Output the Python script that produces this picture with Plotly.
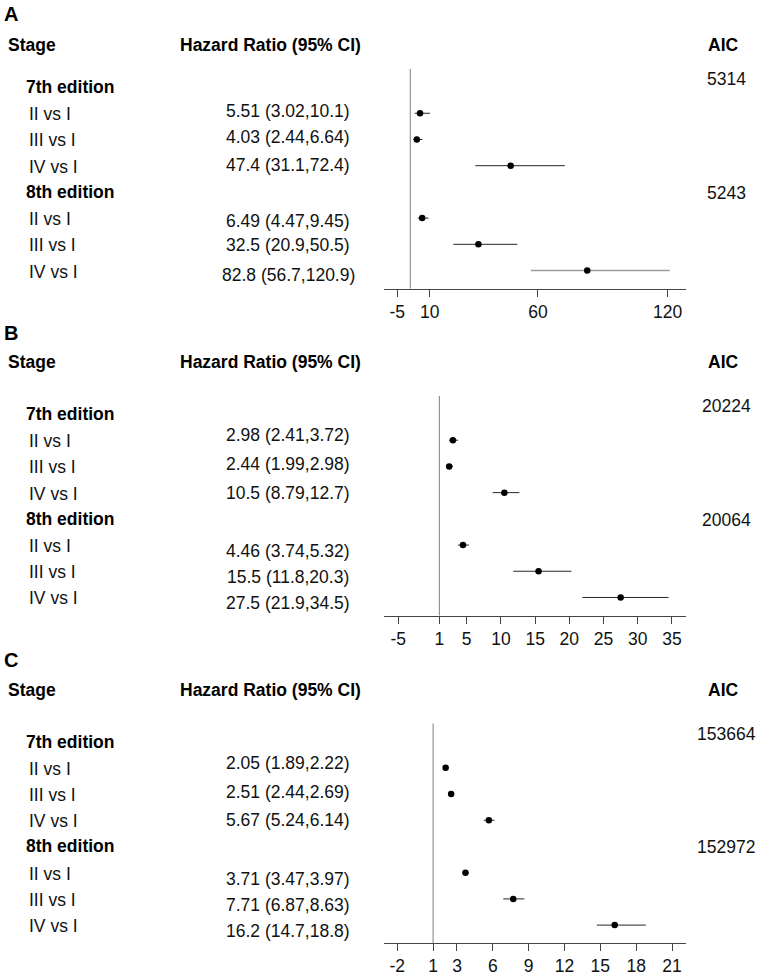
import plotly.graph_objects as go

W, H = 757, 976
FONT = "Liberation Sans, Arial, Helvetica, sans-serif"
FS = 17.5

# ---------------- data ----------------
stages = ["II vs I", "III vs I", "IV vs I"]
editions = ["7th edition", "8th edition"]
panel_letters = ["A", "B", "C"]
col_headers = ["Stage", "Hazard Ratio (95% CI)", "AIC"]

# Panel A
hr_A = [5.51, 4.03, 47.4, 6.49, 32.5, 82.8]
lo_A = [3.02, 2.44, 31.1, 4.47, 20.9, 56.7]
hi_A = [10.1, 6.64, 72.4, 9.45, 50.5, 120.9]
aic_A = [5314, 5243]
ticks_A = [-5, 10, 60, 120]

# Panel B
hr_B = [2.98, 2.44, 10.5, 4.46, 15.5, 27.5]
lo_B = [2.41, 1.99, 8.79, 3.74, 11.8, 21.9]
hi_B = [3.72, 2.98, 12.7, 5.32, 20.3, 34.5]
aic_B = [20224, 20064]
ticks_B = [-5, 1, 5, 10, 15, 20, 25, 30, 35]

# Panel C
hr_C = [2.05, 2.51, 5.67, 3.71, 7.71, 16.2]
lo_C = [1.89, 2.44, 5.24, 3.47, 6.87, 14.7]
hi_C = [2.22, 2.69, 6.14, 3.97, 8.63, 18.8]
aic_C = [153664, 152972]
ticks_C = [-2, 1, 3, 6, 9, 12, 15, 18, 21]

ref_value = 1

# ---------------- layout parameters (pixels) ----------------
panels = [
    dict(hr=hr_A, lo=lo_A, hi=hi_A, aic=aic_A, ticks=ticks_A,
         xrange=[-11.15, 128.46], axis_px=290.7, header_px=45, letter_px=14,
         val_shift=[2, 2, 1, -3, -1, -4], gray_last=True),
    dict(hr=hr_B, lo=lo_B, hi=hi_B, aic=aic_B, ticks=ticks_B,
         xrange=[-7.09, 37.05], axis_px=620.0, header_px=365, letter_px=335,
         val_shift=[5, 2, 0, -6, -6, -6], gray_last=False),
    dict(hr=hr_C, lo=lo_C, hi=hi_C, aic=aic_C, ticks=ticks_C,
         xrange=[-3.11, 22.17], axis_px=950.0, header_px=695, letter_px=665,
         val_shift=[5, 2, 0, -6, -6, -6], gray_last=False),
]

ROW_STEP = 26.4
YRANGE = [7.69, -0.69]
DOM_H = (YRANGE[0] - YRANGE[1]) * ROW_STEP
X0_PX, X1_PX = 384, 686

edition_rows = [0, 4]
data_rows = [1, 2, 3, 5, 6, 7]


def py(px):
    return 1 - px / H


def pxx(px):
    return px / W


fig = go.Figure()
annotations = []
shapes = []

for i, p in enumerate(panels):
    sfx = "" if i == 0 else str(i + 1)
    xref, yref = "x" + sfx, "y" + sfx

    # CI lines
    for k, r in enumerate(data_rows):
        last_gray = p["gray_last"] and k == len(data_rows) - 1
        fig.add_trace(go.Scatter(
            x=[p["lo"][k], p["hi"][k]], y=[r, r], mode="lines",
            line=dict(color="#9a9a9a" if last_gray else "#262626",
                      width=1.6 if last_gray else 1),
            xaxis=xref, yaxis=yref, showlegend=False, hoverinfo="skip"))
    # point estimates
    fig.add_trace(go.Scatter(
        x=p["hr"], y=data_rows, mode="markers",
        marker=dict(color="black", size=6.5),
        xaxis=xref, yaxis=yref, showlegend=False))

    # reference line
    shapes.append(dict(type="line", xref=xref, yref=yref + " domain",
                       x0=ref_value, x1=ref_value, y0=0, y1=1,
                       line=dict(color="#808080", width=1)))

    bottom = py(p["axis_px"])
    top = py(p["axis_px"] - DOM_H)
    fig.layout["xaxis" + sfx] = dict(
        domain=[pxx(X0_PX), pxx(X1_PX)], anchor=yref, range=p["xrange"],
        showline=True, linecolor="#444", linewidth=1,
        ticks="outside", ticklen=7, tickcolor="#444", tickwidth=1,
        tickvals=p["ticks"], ticktext=[str(t) for t in p["ticks"]],
        tickfont=dict(family=FONT, size=FS, color="#111"),
        showgrid=False, zeroline=False, fixedrange=True)
    fig.layout["yaxis" + sfx] = dict(
        domain=[bottom, top], anchor=xref, range=YRANGE, visible=False,
        showgrid=False, zeroline=False, fixedrange=True)

    # panel letter
    annotations.append(dict(text="<b>%s</b>" % panel_letters[i], xref="paper", yref="paper",
                            x=pxx(2), y=py(p["letter_px"]), xanchor="left", yanchor="middle",
                            showarrow=False, font=dict(family=FONT, size=20, color="black")))
    # column headers
    hdr_y = py(p["header_px"])
    annotations.append(dict(text="<b>%s</b>" % col_headers[0], xref="paper", yref="paper",
                            x=pxx(6), y=hdr_y, xanchor="left", yanchor="middle",
                            showarrow=False, font=dict(family=FONT, size=FS, color="black")))
    annotations.append(dict(text="<b>%s</b>" % col_headers[1], xref="paper", yref="paper",
                            x=pxx(270.5), y=hdr_y, xanchor="center", yanchor="middle",
                            showarrow=False, font=dict(family=FONT, size=FS, color="black")))
    annotations.append(dict(text="<b>%s</b>" % col_headers[2], xref="paper", yref="paper",
                            x=pxx(723), y=hdr_y, xanchor="center", yanchor="middle",
                            showarrow=False, font=dict(family=FONT, size=FS, color="black")))

    # edition headers and AIC values
    for e, r in enumerate(edition_rows):
        annotations.append(dict(text="<b>%s</b>" % editions[e], xref="paper", yref=yref,
                                x=pxx(24), y=r, xanchor="left", yanchor="middle",
                                showarrow=False, font=dict(family=FONT, size=FS, color="black")))
        annotations.append(dict(text=str(p["aic"][e]), xref="paper", yref=yref,
                                x=pxx(726), y=r, xanchor="center", yanchor="middle",
                                yshift=8 if e == 0 else -1,
                                showarrow=False, font=dict(family=FONT, size=FS, color="#111")))

    # stage labels and HR text
    for k, r in enumerate(data_rows):
        annotations.append(dict(text=stages[k % 3], xref="paper", yref=yref,
                                x=pxx(27), y=r, xanchor="left", yanchor="middle", yshift=-1,
                                showarrow=False, font=dict(family=FONT, size=FS, color="#111")))
        txt = "%s (%s,%s)" % (format(p["hr"][k], "g"), format(p["lo"][k], "g"), format(p["hi"][k], "g"))
        annotations.append(dict(text=txt, xref="paper", yref=yref,
                                x=pxx(288), y=r, xanchor="center", yanchor="middle",
                                yshift=p["val_shift"][k],
                                showarrow=False, font=dict(family=FONT, size=FS, color="#111")))

fig.update_layout(
    width=W, height=H, margin=dict(l=0, r=0, t=0, b=0),
    paper_bgcolor="white", plot_bgcolor="white",
    annotations=annotations, shapes=shapes,
    font=dict(family=FONT, size=FS, color="#111"),
)

fig.write_html("out.html", config={"displayModeBar": False},
               post_script="document.body.style.margin='0';document.body.style.overflow='hidden';")
